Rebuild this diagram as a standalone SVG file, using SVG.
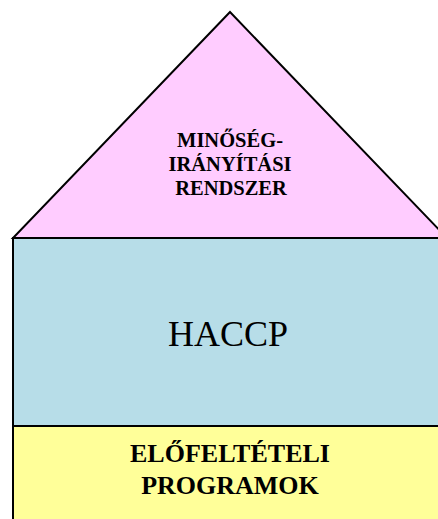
<svg xmlns="http://www.w3.org/2000/svg" width="438" height="519" viewBox="0 0 438 519">
  <style>
    .part { stroke: #000; stroke-width: 2; }
    .bold { font-family: "Liberation Serif", "Times New Roman", serif; font-weight: bold; fill: #000; text-anchor: middle; }
    .plain { font-family: "Liberation Serif", "Times New Roman", serif; fill: #000; text-anchor: middle; }
  </style>
  <rect width="438" height="519" fill="#fff"/>
  <!-- roof -->
  <g id="roof">
    <polygon class="part" points="230,12 13,238 447,238" fill="#FFCCFF"/>
    <text class="bold" x="230" y="147" font-size="20.5">MINŐSÉG-</text>
    <text class="bold" x="230" y="171" font-size="20.5">IRÁNYÍTÁSI</text>
    <text class="bold" x="231" y="195" font-size="20.5">RENDSZER</text>
  </g>
  <!-- middle wall -->
  <g id="haccp">
    <rect class="part" x="13" y="238" width="440" height="188" fill="#B7DDE8"/>
    <text class="plain" x="228" y="346" font-size="36">HACCP</text>
  </g>
  <!-- foundation -->
  <g id="prerequisites">
    <rect class="part" x="13" y="426" width="440" height="110" fill="#FFFF99"/>
    <text class="bold" x="230" y="462" font-size="26">ELŐFELTÉTELI</text>
    <text class="bold" x="230" y="494" font-size="26">PROGRAMOK</text>
  </g>
</svg>
